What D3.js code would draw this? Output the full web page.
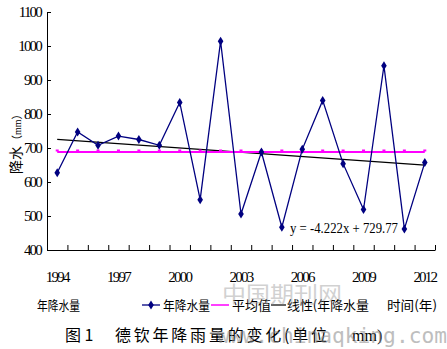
<!DOCTYPE html>
<html>
<head>
<meta charset="utf-8">
<script src="https://cdn.jsdelivr.net/npm/d3@7"></script>
<style>
  html, body { margin: 0; padding: 0; background: #fff; }
  svg { display: block; }
</style>
</head>
<body>
<svg id="chart" width="447" height="349"></svg>
<script>
// Annual precipitation at Deqin, 1994–2012 (mm)
const years = [1994, 1995, 1996, 1997, 1998, 1999, 2000, 2001, 2002, 2003,
               2004, 2005, 2006, 2007, 2008, 2009, 2010, 2011, 2012];
const rainfall = [627, 747, 708, 735, 725, 708, 834, 548, 1014, 506,
                  688, 467, 696, 840, 654, 519, 942, 462, 657];
const yTicks = [400, 500, 600, 700, 800, 900, 1000, 1100];
const xLabelYears = [1994, 1997, 2000, 2003, 2006, 2009, 2012];
// Linear trend y = a·x + b, x = 1..19
const trendSlope = -4.222;
const trendIntercept = 729.77;

(function draw() {
  const svg = d3.select("#chart");
  const serif = "'Liberation Serif', 'Times New Roman', serif";
  const cjk = "'Noto Sans CJK SC', sans-serif";

  const plotLeft = 47, plotRight = 435, plotTop = 12, plotBottom = 250;

  const x = d3.scaleBand().domain(years).range([plotLeft, plotRight]).paddingInner(0).paddingOuter(0);
  const xEdge = d3.scaleLinear().domain([0, years.length]).range([plotLeft, plotRight]);
  const y = d3.scaleLinear().domain([400, 1100]).range([plotBottom, plotTop]);
  const cx = d => x(d) + x.bandwidth() / 2;

  // Y axis with inward ticks
  const yAxis = svg.append("g")
    .attr("transform", `translate(${plotLeft},0)`)
    .call(d3.axisLeft(y).tickValues(yTicks).tickFormat(d3.format("d"))
      .tickSizeInner(-4).tickSizeOuter(0).tickPadding(6));
  yAxis.selectAll("text")
    .style("font-family", serif).style("font-size", "15px")
    .style("letter-spacing", "-1.8px").attr("fill", "#000");

  // X axis: ticks on category boundaries, pointing up
  svg.append("g")
    .attr("transform", `translate(0,${plotBottom})`)
    .call(d3.axisBottom(xEdge).tickValues(d3.range(years.length + 1)).tickSizeInner(-5).tickSizeOuter(0).tickFormat(""));

  // Year labels under category centres
  const xLab = svg.append("g")
    .attr("transform", `translate(0,${plotBottom})`)
    .call(d3.axisBottom(x).tickValues(xLabelYears).tickFormat(d3.format("d")).tickSize(0).tickPadding(21));
  xLab.select(".domain").remove();
  xLab.selectAll("text")
    .style("font-family", serif).style("font-size", "15px")
    .style("letter-spacing", "-1.8px").attr("fill", "#000");

  svg.selectAll(".domain, .tick line").attr("stroke", "#000").attr("stroke-width", 1);

  // Trend line
  const tx1 = 1, tx2 = years.length;
  svg.append("line")
    .attr("x1", cx(years[tx1 - 1])).attr("y1", y(trendSlope * tx1 + trendIntercept))
    .attr("x2", cx(years[tx2 - 1])).attr("y2", y(trendSlope * tx2 + trendIntercept))
    .attr("stroke", "#000").attr("stroke-width", 1.2);

  // Mean line
  const mean = d3.mean(rainfall);
  svg.append("line")
    .attr("x1", cx(years[0])).attr("x2", cx(years[years.length - 1]))
    .attr("y1", y(mean)).attr("y2", y(mean))
    .attr("stroke", "#ff00ff").attr("stroke-width", 2);
  svg.append("g").selectAll("rect").data(years).join("rect")
    .attr("x", d => cx(d) - 1.5).attr("y", y(mean) - 2.5)
    .attr("width", 3).attr("height", 2).attr("fill", "#ff00ff");

  // Rainfall series
  const line = d3.line().x((d, i) => cx(years[i])).y(d => y(d));
  svg.append("path").datum(rainfall)
    .attr("d", line).attr("fill", "none")
    .attr("stroke", "#000080").attr("stroke-width", 1.3);
  const diamond = "M0,-4.5L2.8,0L0,4.5L-2.8,0Z";
  svg.append("g").selectAll("path").data(rainfall).join("path")
    .attr("transform", (d, i) => `translate(${cx(years[i])},${y(d)})`)
    .attr("d", diamond).attr("fill", "#000080");

  // Trend equation
  svg.append("text")
    .attr("x", 290).attr("y", 233)
    .attr("textLength", 108).attr("lengthAdjust", "spacingAndGlyphs")
    .style("font-family", serif).style("font-size", "15px").attr("fill", "#000")
    .text(`y = ${trendSlope}x + ${trendIntercept}`);

  // Y axis title
  svg.append("text")
    .attr("transform", "translate(21,174) rotate(-90)")
    .style("font-family", cjk).attr("fill", "#000")
    .call(t => {
      t.append("tspan").style("font-size", "14px").text("降水");
      t.append("tspan").style("font-size", "11px").text("（");
      t.append("tspan").style("font-size", "10px").style("font-family", serif).text("mm");
      t.append("tspan").style("font-size", "11px").text("）");
    });

  // Legend row
  const ly = 310, lm = 305;
  const legendText = (txt, x0, len) => svg.append("text")
    .attr("x", x0).attr("y", ly)
    .attr("textLength", len).attr("lengthAdjust", "spacingAndGlyphs")
    .style("font-family", cjk).style("font-size", "13px").attr("fill", "#000")
    .text(txt);

  legendText("年降水量", 37, 43);
  svg.append("line").attr("x1", 142).attr("x2", 160).attr("y1", lm).attr("y2", lm)
    .attr("stroke", "#000080").attr("stroke-width", 1.3);
  svg.append("path").attr("transform", `translate(151,${lm})`).attr("d", diamond).attr("fill", "#000080");
  legendText("年降水量", 163, 47);
  svg.append("line").attr("x1", 211).attr("x2", 229).attr("y1", lm).attr("y2", lm)
    .attr("stroke", "#ff00ff").attr("stroke-width", 1.5);
  legendText("平均值", 232, 39);
  svg.append("line").attr("x1", 271).attr("x2", 286).attr("y1", lm).attr("y2", lm)
    .attr("stroke", "#000").attr("stroke-width", 1.2);
  legendText("线性(年降水量", 287, 82);
  legendText("时间(年)", 387, 50);

  // Figure caption
  svg.append("text").attr("x", 65).attr("y", 341)
    .style("font-family", cjk).style("font-size", "16px").attr("fill", "#000")
    .text("图 1");
  svg.append("text").attr("x", 115).attr("y", 341)
    .attr("textLength", 212).attr("lengthAdjust", "spacing")
    .style("font-family", cjk).style("font-size", "16px").attr("fill", "#000")
    .text("德钦年降雨量的变化(单位");
  svg.append("text").attr("x", 352).attr("y", 341)
    .style("font-family", serif).style("font-size", "16px").attr("fill", "#000")
    .text("mm)");

  // Site watermarks
  svg.append("text").attr("x", 222).attr("y", 302)
    .attr("textLength", 120).attr("lengthAdjust", "spacingAndGlyphs")
    .style("font-family", cjk).style("font-size", "22px")
    .attr("fill", "#9a9a9a").attr("opacity", 0.45)
    .text("中国期刊网");
  svg.append("text").attr("x", 217).attr("y", 343)
    .attr("textLength", 230).attr("lengthAdjust", "spacingAndGlyphs")
    .style("font-family", "'DejaVu Sans Mono', monospace").style("font-size", "21px")
    .attr("fill", "#8a8a8a").attr("opacity", 0.55)
    .text("www.chinaqking.com");
})();
</script>
</body>
</html>
